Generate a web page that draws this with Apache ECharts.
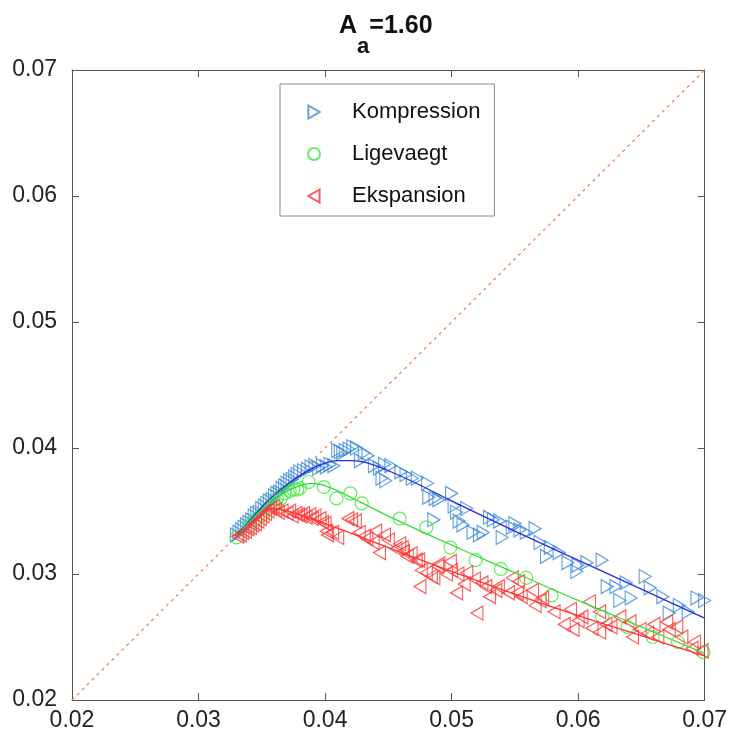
<!DOCTYPE html>
<html>
<head>
<meta charset="utf-8">
<script src="https://cdn.jsdelivr.net/npm/echarts@6/dist/echarts.min.js"></script>
<style>
  html, body { margin: 0; padding: 0; background: #fff; }
  #chart { width: 730px; height: 747px; }
</style>
</head>
<body>
<div id="chart"></div>
<script>
// Axis ticks (both axes share the same range)
const axisTicks = [0.02, 0.03, 0.04, 0.05, 0.06, 0.07];

// Measured points [x, y]
const kompression = [
  [0.0330,0.0331],[0.0332,0.0333],[0.0334,0.0335],[0.0336,0.0337],[0.0338,0.0339],[0.0340,0.0341],
  [0.0342,0.0343],[0.0344,0.0346],[0.0346,0.0348],[0.0348,0.0349],[0.0350,0.0352],[0.0352,0.0354],
  [0.0354,0.0356],[0.0356,0.0358],[0.0358,0.0359],[0.0360,0.0362],[0.0362,0.0364],[0.0364,0.0365],
  [0.0366,0.0368],[0.0368,0.0370],[0.0370,0.0372],[0.0372,0.0374],[0.0374,0.0375],[0.0376,0.0377],
  [0.0378,0.0379],[0.0380,0.0381],[0.0383,0.0382],[0.0386,0.0383],[0.0389,0.0385],[0.0392,0.0386],
  [0.0395,0.0384],[0.0398,0.0386],[0.0401,0.0385],[0.0404,0.0387],[0.0407,0.0386],
  [0.0410,0.0398],[0.0412,0.0397],[0.0414,0.0396],[0.0416,0.0398],[0.0419,0.0399],[0.0422,0.0401],
  [0.0425,0.0400],[0.0428,0.0390],[0.0431,0.0396],[0.0434,0.0394],[0.0439,0.0386],[0.0443,0.0384],
  [0.0445,0.0376],[0.0447,0.0387],[0.0448,0.0374],[0.0452,0.0386],[0.0460,0.0381],[0.0464,0.0379],
  [0.0469,0.0376],[0.0473,0.0376],[0.0481,0.0372],[0.0482,0.0361],[0.0486,0.0343],[0.0487,0.0360],
  [0.0490,0.0359],[0.0500,0.0364],[0.0502,0.0354],[0.0504,0.0349],[0.0506,0.0342],[0.0509,0.0339],
  [0.0512,0.0352],[0.0517,0.0333],[0.0522,0.0331],[0.0525,0.0333],[0.0530,0.0345],[0.0533,0.0343],
  [0.0538,0.0342],[0.0540,0.0329],[0.0548,0.0337],[0.0550,0.0340],[0.0554,0.0335],[0.0559,0.0333],
  [0.0566,0.0336],[0.0570,0.0325],[0.0575,0.0314],[0.0578,0.0321],[0.0585,0.0317],[0.0592,0.0309],
  [0.0599,0.0302],[0.0600,0.0307],[0.0607,0.0309],[0.0619,0.0311],[0.0623,0.0290],[0.0630,0.0290],
  [0.0633,0.0279],[0.0638,0.0293],[0.0642,0.0281],[0.0653,0.0298],[0.0657,0.0289],[0.0667,0.0282],
  [0.0672,0.0269],[0.0680,0.0275],[0.0687,0.0270],[0.0694,0.0281],[0.0700,0.0279]
];

const ligevaegt = [
  [0.0330,0.0329],[0.0340,0.0338],[0.0345,0.0343],[0.0350,0.0347],[0.0355,0.0352],[0.0360,0.0356],
  [0.0362,0.0360],[0.0365,0.0360],[0.0368,0.0364],[0.0372,0.0366],[0.0375,0.0367],[0.0378,0.0367],
  [0.0380,0.0368],[0.0387,0.0373],[0.0399,0.0369],[0.0409,0.0360],[0.0420,0.0364],[0.0429,0.0356],
  [0.0459,0.0344],[0.0480,0.0337],[0.0499,0.0321],[0.0519,0.0311],[0.0539,0.0304],[0.0559,0.0297],
  [0.0579,0.0283],[0.0619,0.0266],[0.0639,0.0258],[0.0659,0.0250],[0.0679,0.0246],[0.0699,0.0238]
];

const ekspansion = [
  [0.0331,0.0330],[0.0333,0.0331],[0.0335,0.0333],[0.0337,0.0334],[0.0339,0.0336],[0.0341,0.0337],
  [0.0343,0.0339],[0.0345,0.0340],[0.0347,0.0342],[0.0349,0.0344],[0.0351,0.0346],[0.0353,0.0348],
  [0.0355,0.0350],[0.0357,0.0352],[0.0359,0.0353],[0.0361,0.0351],[0.0363,0.0349],[0.0366,0.0350],
  [0.0370,0.0348],[0.0372,0.0350],[0.0374,0.0346],[0.0377,0.0348],[0.0379,0.0347],[0.0381,0.0346],
  [0.0383,0.0348],[0.0385,0.0345],[0.0388,0.0347],[0.0390,0.0344],[0.0392,0.0346],[0.0396,0.0344],
  [0.0398,0.0341],[0.0400,0.0340],[0.0401,0.0334],[0.0402,0.0331],[0.0406,0.0333],[0.0410,0.0329],
  [0.0418,0.0344],[0.0421,0.0343],[0.0424,0.0342],[0.0427,0.0333],[0.0431,0.0330],[0.0433,0.0328],
  [0.0438,0.0325],[0.0440,0.0334],[0.0443,0.0317],[0.0447,0.0331],[0.0450,0.0327],[0.0456,0.0320],
  [0.0459,0.0324],[0.0461,0.0321],[0.0462,0.0318],[0.0465,0.0314],[0.0468,0.0316],[0.0472,0.0311],
  [0.0474,0.0311],[0.0475,0.0290],[0.0476,0.0303],[0.0480,0.0301],[0.0484,0.0298],[0.0486,0.0297],
  [0.0489,0.0306],[0.0490,0.0308],[0.0496,0.0300],[0.0499,0.0310],[0.0500,0.0303],[0.0504,0.0285],
  [0.0505,0.0300],[0.0510,0.0292],[0.0512,0.0301],[0.0518,0.0296],[0.0520,0.0269],[0.0524,0.0293],
  [0.0527,0.0290],[0.0530,0.0282],[0.0535,0.0287],[0.0537,0.0290],[0.0545,0.0285],[0.0548,0.0297],
  [0.0553,0.0294],[0.0552,0.0285],[0.0555,0.0282],[0.0564,0.0287],[0.0566,0.0275],[0.0570,0.0279],
  [0.0572,0.0281],[0.0581,0.0270],[0.0589,0.0260],[0.0594,0.0272],[0.0596,0.0256],[0.0600,0.0263],
  [0.0603,0.0266],[0.0609,0.0278],[0.0611,0.0257],[0.0617,0.0270],[0.0617,0.0254],[0.0622,0.0260],
  [0.0626,0.0258],[0.0633,0.0266],[0.0641,0.0262],[0.0643,0.0250],[0.0649,0.0256],[0.0655,0.0253],
  [0.0660,0.0260],[0.0663,0.0250],[0.0670,0.0262],[0.0672,0.0256],[0.0678,0.0258],[0.0682,0.0250],
  [0.0690,0.0241],[0.0692,0.0246],[0.0698,0.0239]
];

// Fitted curves through each data set
const kompressionFit = [
  [0.033,0.0330],[0.034,0.0342],[0.035,0.0353],[0.036,0.0363],[0.037,0.0371],[0.038,0.0378],
  [0.039,0.0384],[0.040,0.0388],[0.041,0.0390],[0.042,0.0390],[0.043,0.0389],[0.044,0.0386],
  [0.045,0.0382],[0.047,0.0373],[0.050,0.0358],[0.055,0.0334],[0.060,0.0311],[0.065,0.0288],
  [0.070,0.0265]
];
const ligevaegtFit = [
  [0.033,0.0330],[0.034,0.0341],[0.035,0.0351],[0.036,0.0359],[0.037,0.0366],[0.038,0.0370],
  [0.039,0.0372],[0.040,0.0370],[0.041,0.0366],[0.042,0.0361],[0.043,0.0356],[0.045,0.0346],
  [0.050,0.0323],[0.055,0.0301],[0.060,0.0279],[0.065,0.0258],[0.070,0.0237]
];
const ekspansionFit = [
  [0.033,0.0330],[0.034,0.0339],[0.035,0.0347],[0.0358,0.0352],[0.037,0.0350],[0.040,0.0340],
  [0.045,0.0321],[0.050,0.0302],[0.055,0.0284],[0.060,0.0267],[0.065,0.0251],[0.070,0.0235]
];

// y = x reference line
const diagonal = [[0.02,0.02],[0.07,0.07]];

const seriesNames = ['Kompression', 'Ligevaegt', 'Ekspansion'];

const FONT = '"Liberation Sans", Arial, Helvetica, sans-serif';
const AXIS_COLOR = '#555';
const BLUE = '#3a8ad6';
const GREEN = '#33ee33';
const RED = '#ff3333';

// Triangle outlines used for the legend keys
const RIGHT_TRI = 'path://M0,0L12,7L0,14Z';
const LEFT_TRI = 'path://M12,0L0,7L12,14Z';

const axisMin = axisTicks[0];
const axisMax = axisTicks[axisTicks.length - 1];
const step = axisTicks[1] - axisTicks[0];

function valueAxis(pos, showLabels, margin) {
  return {
    type: 'value',
    position: pos,
    min: axisMin,
    max: axisMax,
    interval: step,
    scale: false,
    axisLine: { show: true, onZero: false, lineStyle: { color: AXIS_COLOR, width: 1 } },
    axisTick: { show: true, inside: true, length: 7, lineStyle: { color: AXIS_COLOR } },
    axisLabel: {
      show: showLabels,
      margin: margin,
      fontFamily: FONT,
      fontSize: 23,
      color: '#222',
      formatter: v => v.toFixed(2)
    },
    splitLine: { show: false }
  };
}

const chart = echarts.init(document.getElementById('chart'), null, { renderer: 'canvas' });

const hollow = (c) => ({ color: 'rgba(255,255,255,0)', borderColor: c, borderWidth: 1.2 });

chart.setOption({
  backgroundColor: '#fff',
  animation: false,
  title: {
    text: '{m|A}{s|a}{m|=1.60}',
    left: 334,
    top: 9,
    textStyle: {
      rich: {
        m: { fontFamily: FONT, fontSize: 25, fontWeight: 'bold', color: '#111', lineHeight: 24, verticalAlign: 'top' },
        s: { fontFamily: FONT, fontSize: 22, fontWeight: 'bold', color: '#111', lineHeight: 22, padding: [22, 0, 0, 0], verticalAlign: 'top' }
      }
    }
  },
  grid: { left: 72, right: 25, top: 70, bottom: 47, containLabel: false },
  xAxis: [valueAxis('bottom', true, 9), valueAxis('top', false, 8)],
  yAxis: [valueAxis('left', true, 15), valueAxis('right', false, 8)],
  legend: {
    data: [
      { name: seriesNames[0], icon: RIGHT_TRI },
      { name: seriesNames[1], icon: 'circle' },
      { name: seriesNames[2], icon: LEFT_TRI }
    ],
    orient: 'vertical',
    left: 280,
    top: 84,
    padding: [17, 14, 9, 27],
    itemGap: 20,
    itemWidth: 12,
    itemHeight: 13,
    backgroundColor: '#fff',
    borderColor: '#888',
    borderWidth: 1,
    textStyle: { fontFamily: FONT, fontSize: 22, color: '#111', padding: [0, 0, 0, 27] }
  },
  series: [
    {
      type: 'line',
      data: diagonal,
      symbol: 'none',
      silent: true,
      lineStyle: { color: '#f0804a', width: 1.3, type: [3, 4] },
      z: 1
    },
    {
      name: 'Kompression',
      type: 'scatter',
      data: kompression,
      symbol: 'triangle',
      symbolRotate: -90,
      symbolSize: [14, 12],
      itemStyle: hollow(BLUE),
      z: 2
    },
    {
      name: 'Ligevaegt',
      type: 'scatter',
      data: ligevaegt,
      symbol: 'circle',
      symbolSize: 13,
      itemStyle: hollow(GREEN),
      z: 2
    },
    {
      name: 'Ekspansion',
      type: 'scatter',
      data: ekspansion,
      symbol: 'triangle',
      symbolRotate: 90,
      symbolSize: [14, 12],
      itemStyle: hollow(RED),
      z: 2
    },
    {
      type: 'line',
      data: kompressionFit,
      symbol: 'none',
      smooth: 0.4,
      silent: true,
      lineStyle: { color: '#2a2ae0', width: 1.3 },
      z: 3
    },
    {
      type: 'line',
      data: ligevaegtFit,
      symbol: 'none',
      smooth: 0.4,
      silent: true,
      lineStyle: { color: '#33dd33', width: 1.3 },
      z: 3
    },
    {
      type: 'line',
      data: ekspansionFit,
      symbol: 'none',
      smooth: 0.4,
      silent: true,
      lineStyle: { color: RED, width: 1.3 },
      z: 3
    }
  ]
});
</script>
</body>
</html>
